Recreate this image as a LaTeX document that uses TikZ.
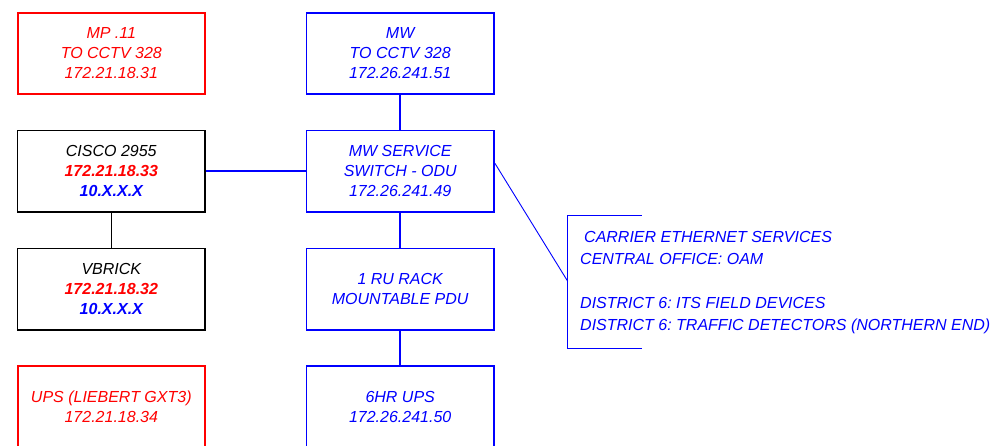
\documentclass[tikz,border=0pt]{standalone}
\usepackage{fontspec}
\setmainfont{Liberation Sans}
\frenchspacing
\definecolor{cred}{RGB}{255,0,0}
\definecolor{cblue}{RGB}{0,0,255}
\begin{document}
\begin{tikzpicture}[x=1pt,y=-1pt,
  box/.style={draw, rectangle, minimum width=187.5pt, minimum height=81.6pt, inner sep=0pt,
    align=center, font=\fontsize{16}{20}\selectfont\itshape, line width=1.9pt},
  redbox/.style={box, draw=cred, text=cred},
  bluebox/.style={box, draw=cblue, text=cblue},
  blackbox/.style={box, draw=black, text=black, line width=1.2pt},
  bconn/.style={draw=cblue, line width=1.9pt},
  kconn/.style={draw=black, line width=1.1pt},
  thin/.style={draw=cblue, line width=0.9pt}]
\useasboundingbox (0,0) rectangle (991,446);
\node[redbox] (mp) at (111.3,53.5) {MP .11\\TO CCTV 328\\172.21.18.31};
\node[bluebox] (mw) at (400.2,53.5) {MW\\TO CCTV 328\\172.26.241.51};
\node[blackbox] (cisco) at (111.3,171.3) {CISCO 2955\\\textcolor{cred}{\bfseries 172.21.18.33}\\\textcolor{cblue}{\bfseries 10.X.X.X}};
\node[bluebox] (mws) at (400.2,171.3) {MW SERVICE\\SWITCH - ODU\\172.26.241.49};
\node[blackbox] (vbrick) at (111.3,289.3) {VBRICK\\\textcolor{cred}{\bfseries 172.21.18.32}\\\textcolor{cblue}{\bfseries 10.X.X.X}};
\node[bluebox] (pdu) at (400.2,289.3) {1 RU RACK\\MOUNTABLE PDU};
\node[redbox] (ups) at (111.3,407.2) {UPS (LIEBERT GXT3)\\172.21.18.34};
\node[bluebox] (ups6) at (400.2,407.2) {6HR UPS\\172.26.241.50};
\draw[bconn] (mw) -- (mws);
\draw[bconn] (mws) -- (pdu);
\draw[bconn] (pdu) -- (ups6);
\draw[bconn] (cisco.east) -- (mws.west);
\draw[kconn] (cisco) -- (vbrick);
% bracket
\coordinate (brk) at (567.7,281.3);
\draw[thin] (641.7,215.3) -- (567.7,215.3) -- (567.7,348.7) -- (641.7,348.7);
\draw[thin] ([yshift=8pt]mws.east) -- (brk);
\node[anchor=west, inner sep=0pt, align=left, text=cblue, font=\fontsize{16}{22}\selectfont\itshape] (svc) at (580,283)
  {\hspace{4pt}CARRIER ETHERNET SERVICES\\CENTRAL OFFICE: OAM\\[22pt]DISTRICT 6: ITS FIELD DEVICES\\DISTRICT 6: TRAFFIC DETECTORS (NORTHERN END)};
\end{tikzpicture}
\end{document}
